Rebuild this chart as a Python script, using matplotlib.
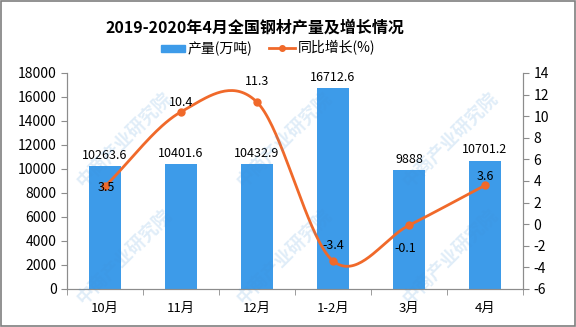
import numpy as np
import matplotlib
matplotlib.use("Agg")
import matplotlib.pyplot as plt
from matplotlib.patches import Rectangle

plt.rcParams['font.family'] = ['Noto Sans CJK SC', 'DejaVu Sans']
plt.rcParams['axes.unicode_minus'] = False

# Données
mois = ["10月", "11月", "12月", "1-2月", "3月", "4月"]
production = [10263.6, 10401.6, 10432.9, 16712.6, 9888, 10701.2]
croissance = [3.5, 10.4, 11.3, -3.4, -0.1, 3.6]

bleu = '#3d9be9'
orange = '#f0692a'
gris = '#8c8c8c'


def lissage(y, n=40):
    # courbe lissée type Catmull-Rom entre les points
    y = np.asarray(y, dtype=float)
    m = np.zeros_like(y)
    m[1:-1] = (y[2:] - y[:-2]) / 2
    m[0] = y[1] - y[0]
    m[-1] = y[-1] - y[-2]
    xs, ys = [], []
    for i in range(len(y) - 1):
        t = np.linspace(0, 1, n, endpoint=False)
        h00 = 2 * t**3 - 3 * t**2 + 1
        h10 = t**3 - 2 * t**2 + t
        h01 = -2 * t**3 + 3 * t**2
        h11 = t**3 - t**2
        xs.append(i + t)
        ys.append(h00 * y[i] + h10 * m[i] + h01 * y[i + 1] + h11 * m[i + 1])
    xs.append([len(y) - 1])
    ys.append([y[-1]])
    return np.concatenate(xs), np.concatenate(ys)


fig = plt.figure(figsize=(5.76, 3.27), dpi=100)
ax = fig.add_axes([67 / 576, 1 - 289 / 327, 456 / 576, 216 / 327])
ax2 = ax.twinx()

x = np.arange(len(mois))
ax.bar(x, production, width=0.42, color=bleu, zorder=2)
ax.set_xlim(-0.5, len(mois) - 0.5)
ax.set_ylim(0, 18000)
ax.set_yticks(np.arange(0, 18001, 2000))
ax.set_xticks(x)
ax.set_xticklabels(mois, fontsize=9.5)
ax.set_xticks(np.arange(-0.5, len(mois), 1), minor=True)
ax.tick_params(axis='x', which='major', length=0, pad=9)
ax.tick_params(axis='x', which='minor', length=4, color=gris)
ax.tick_params(axis='y', length=4, color=gris, labelsize=10)

for xi, v in zip(x, production):
    ax.annotate("{:g}".format(v), (xi, v), xytext=(0, 3), textcoords='offset points',
                ha='center', va='bottom', fontsize=9, zorder=5)

xl, yl = lissage(croissance)
ax2.plot(xl, yl, color=orange, lw=2, zorder=3)
ax2.plot(x, croissance, 'o', color=orange, ms=5, zorder=4)
ax2.set_ylim(-6, 14)
ax2.set_yticks(np.arange(-6, 15, 2))
ax2.tick_params(axis='y', length=4, color=gris, labelsize=10)

# décalages des étiquettes de la courbe (en points)
decalages = [(1, -1), (0, 7), (0, 15), (0, 11), (-3, -17), (0, 6)]
for xi, v, d in zip(x, croissance, decalages):
    ax2.annotate("{:g}".format(v), (xi, v), xytext=d, textcoords='offset points',
                 ha='center', va='center', fontsize=9, zorder=6)

for a in (ax, ax2):
    a.spines['top'].set_visible(False)
    for s in ('left', 'right', 'bottom'):
        a.spines[s].set_color(gris)
ax.set_zorder(ax2.get_zorder() - 1)
ax.patch.set_visible(True)
ax2.patch.set_visible(False)

# Titre et légende
fig.text(255 / 576, 1 - 28 / 327, "2019-2020年4月全国钢材产量及增长情况", ha='center', va='center',
         fontsize=11.5, fontweight='bold')
fig.patches.append(Rectangle((161 / 576, 1 - 52 / 327), 24 / 576, 7 / 327,
                             transform=fig.transFigure, color=bleu))
fig.text(188 / 576, 1 - 48 / 327, "产量(万吨)", va='center', fontsize=10)
fig.add_artist(plt.Line2D([269 / 576, 295 / 576], [1 - 48 / 327, 1 - 48 / 327],
                          transform=fig.transFigure, color=orange, lw=2))
fig.add_artist(plt.Line2D([282 / 576], [1 - 48 / 327], transform=fig.transFigure,
                          marker='o', color=orange, ms=4))
fig.text(298 / 576, 1 - 48 / 327, "同比增长(%)", va='center', fontsize=10)

# Filigrane (seulement les copies entières)
for x0 in (72, 232, 398):
    for y0 in (193, 310):
        fig.text((x0 + 8) / 576, 1 - (y0 - 8) / 327, "中商产业研究院", rotation=45,
                 rotation_mode='anchor', ha='left', va='center', fontsize=13,
                 fontweight='bold', color='#3d8fd6', alpha=0.16, zorder=10)

# Cadre
fig.patches.append(Rectangle((0.001, 0.002), 0.997, 0.995, transform=fig.transFigure,
                             fill=False, edgecolor='#7f7f7f', lw=1.2))

fig.savefig("out.png", dpi=100)
